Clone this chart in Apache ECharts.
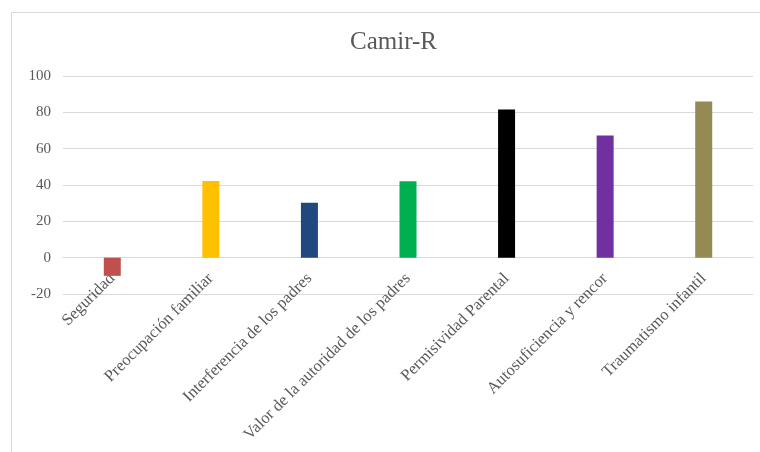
<!DOCTYPE html>
<html>
<head>
<meta charset="utf-8">
<script src="https://cdn.jsdelivr.net/npm/echarts@6/dist/echarts.min.js"></script>
<style>
  html, body { margin: 0; padding: 0; background: #fff; }
  #chart { width: 760px; height: 452px; }
</style>
</head>
<body>
<div id="chart"></div>
<script>
  // datos
  var categorias = ['Seguridad', 'Preocupación familiar', 'Interferencia de los padres',
    'Valor de la autoridad de los padres', 'Permisividad Parental',
    'Autosuficiencia y rencor', 'Traumatismo infantil']
  var valores = [-10, 42.2, 30.2, 42, 81.5, 67.3, 86]
  var colores = ['#C0504D', '#FFC000', '#1F497D', '#00B050', '#000000', '#7030A0', '#948A54']
  var ticksY = [-20, 0, 20, 40, 60, 80, 100]

  var fuente = 'Liberation Serif'
  var gris = '#595959'

  var chart = echarts.init(document.getElementById('chart'))
  var option = {
    animation: false,
    graphic: [{
      type: 'rect',
      shape: { x: 11.5, y: 12.5, width: 800, height: 500 },
      style: { fill: 'none', stroke: '#d9d9d9', lineWidth: 1 },
      silent: true
    }],
    title: {
      text: 'Camir-R',
      left: 345,
      top: 25,
      textStyle: { fontFamily: fuente, fontSize: 25, fontWeight: 'normal', color: gris }
    },
    grid: { left: 63, right: 7, top: 76, bottom: 158 },
    xAxis: {
      type: 'category',
      data: categorias,
      // el eje de categorias va sobre el 0, como en excel
      offset: -36,
      axisLine: { show: true, lineStyle: { color: '#d9d9d9' } },
      axisTick: { show: false },
      axisLabel: {
        interval: 0,
        rotate: 45,
        margin: 18,
        fontFamily: fuente,
        fontSize: 16.5,
        color: gris
      }
    },
    yAxis: {
      type: 'value',
      min: ticksY[0],
      max: ticksY[ticksY.length - 1],
      interval: 20,
      axisLine: { show: false },
      axisTick: { show: false },
      axisLabel: { fontFamily: fuente, fontSize: 15, color: gris, margin: 12 },
      splitLine: { lineStyle: { color: '#d9d9d9', width: 1 } }
    },
    series: [{
      type: 'bar',
      barWidth: 17,
      data: valores.map(function (v, i) {
        return { value: v, itemStyle: { color: colores[i] } }
      })
    }]
  }
  chart.setOption(option)
  window.addEventListener('resize', () => {
    chart.resize()
  })
</script>
</body>
</html>
